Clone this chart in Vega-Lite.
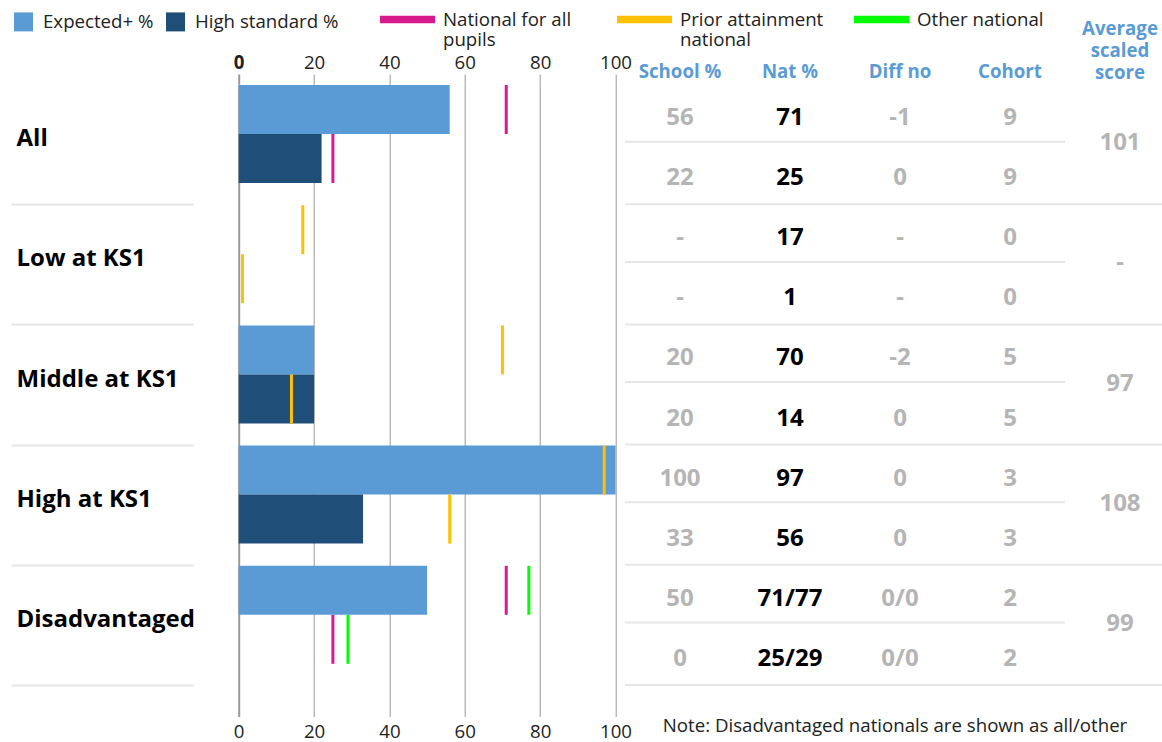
{
  "$schema": "https://vega.github.io/schema/vega-lite/v6.json",
  "width": 923.3,
  "height": 632.5,
  "autosize": {"type": "none"},
  "padding": {"left": 238.7, "top": 84, "right": 0, "bottom": 25.5},
  "config": {"font": "Open Sans", "view": {"stroke": null}},
  "datasets": {
    "bars": [
      {"group": "All", "measure": "Expected+ %", "value": 56},
      {"group": "All", "measure": "High standard %", "value": 22},
      {"group": "Middle at KS1", "measure": "Expected+ %", "value": 20},
      {"group": "Middle at KS1", "measure": "High standard %", "value": 20},
      {"group": "High at KS1", "measure": "Expected+ %", "value": 100},
      {"group": "High at KS1", "measure": "High standard %", "value": 33},
      {"group": "Disadvantaged", "measure": "Expected+ %", "value": 50},
      {"group": "Disadvantaged", "measure": "High standard %", "value": 0}
    ],
    "nat": [
      {"group": "All", "measure": "Expected+ %", "national": "National for all pupils", "value": 71},
      {"group": "All", "measure": "High standard %", "national": "National for all pupils", "value": 25},
      {"group": "Low at KS1", "measure": "Expected+ %", "national": "Prior attainment national", "value": 17},
      {"group": "Low at KS1", "measure": "High standard %", "national": "Prior attainment national", "value": 1},
      {"group": "Middle at KS1", "measure": "Expected+ %", "national": "Prior attainment national", "value": 70},
      {"group": "Middle at KS1", "measure": "High standard %", "national": "Prior attainment national", "value": 14},
      {"group": "High at KS1", "measure": "Expected+ %", "national": "Prior attainment national", "value": 97},
      {"group": "High at KS1", "measure": "High standard %", "national": "Prior attainment national", "value": 56},
      {"group": "Disadvantaged", "measure": "Expected+ %", "national": "National for all pupils", "value": 71},
      {"group": "Disadvantaged", "measure": "Expected+ %", "national": "Other national", "value": 77},
      {"group": "Disadvantaged", "measure": "High standard %", "national": "National for all pupils", "value": 25},
      {"group": "Disadvantaged", "measure": "High standard %", "national": "Other national", "value": 29}
    ],
    "table": [
      {"group": "All", "col": "School %", "sub": "Expected+ %", "text": "56"},
      {"group": "All", "col": "School %", "sub": "High standard %", "text": "22"},
      {"group": "All", "col": "Nat %", "sub": "Expected+ %", "text": "71"},
      {"group": "All", "col": "Nat %", "sub": "High standard %", "text": "25"},
      {"group": "All", "col": "Diff no", "sub": "Expected+ %", "text": "-1"},
      {"group": "All", "col": "Diff no", "sub": "High standard %", "text": "0"},
      {"group": "All", "col": "Cohort", "sub": "Expected+ %", "text": "9"},
      {"group": "All", "col": "Cohort", "sub": "High standard %", "text": "9"},
      {"group": "All", "col": "Average scaled score", "sub": null, "text": "101"},
      {"group": "Low at KS1", "col": "School %", "sub": "Expected+ %", "text": "-"},
      {"group": "Low at KS1", "col": "School %", "sub": "High standard %", "text": "-"},
      {"group": "Low at KS1", "col": "Nat %", "sub": "Expected+ %", "text": "17"},
      {"group": "Low at KS1", "col": "Nat %", "sub": "High standard %", "text": "1"},
      {"group": "Low at KS1", "col": "Diff no", "sub": "Expected+ %", "text": "-"},
      {"group": "Low at KS1", "col": "Diff no", "sub": "High standard %", "text": "-"},
      {"group": "Low at KS1", "col": "Cohort", "sub": "Expected+ %", "text": "0"},
      {"group": "Low at KS1", "col": "Cohort", "sub": "High standard %", "text": "0"},
      {"group": "Low at KS1", "col": "Average scaled score", "sub": null, "text": "-"},
      {"group": "Middle at KS1", "col": "School %", "sub": "Expected+ %", "text": "20"},
      {"group": "Middle at KS1", "col": "School %", "sub": "High standard %", "text": "20"},
      {"group": "Middle at KS1", "col": "Nat %", "sub": "Expected+ %", "text": "70"},
      {"group": "Middle at KS1", "col": "Nat %", "sub": "High standard %", "text": "14"},
      {"group": "Middle at KS1", "col": "Diff no", "sub": "Expected+ %", "text": "-2"},
      {"group": "Middle at KS1", "col": "Diff no", "sub": "High standard %", "text": "0"},
      {"group": "Middle at KS1", "col": "Cohort", "sub": "Expected+ %", "text": "5"},
      {"group": "Middle at KS1", "col": "Cohort", "sub": "High standard %", "text": "5"},
      {"group": "Middle at KS1", "col": "Average scaled score", "sub": null, "text": "97"},
      {"group": "High at KS1", "col": "School %", "sub": "Expected+ %", "text": "100"},
      {"group": "High at KS1", "col": "School %", "sub": "High standard %", "text": "33"},
      {"group": "High at KS1", "col": "Nat %", "sub": "Expected+ %", "text": "97"},
      {"group": "High at KS1", "col": "Nat %", "sub": "High standard %", "text": "56"},
      {"group": "High at KS1", "col": "Diff no", "sub": "Expected+ %", "text": "0"},
      {"group": "High at KS1", "col": "Diff no", "sub": "High standard %", "text": "0"},
      {"group": "High at KS1", "col": "Cohort", "sub": "Expected+ %", "text": "3"},
      {"group": "High at KS1", "col": "Cohort", "sub": "High standard %", "text": "3"},
      {"group": "High at KS1", "col": "Average scaled score", "sub": null, "text": "108"},
      {"group": "Disadvantaged", "col": "School %", "sub": "Expected+ %", "text": "50"},
      {"group": "Disadvantaged", "col": "School %", "sub": "High standard %", "text": "0"},
      {"group": "Disadvantaged", "col": "Nat %", "sub": "Expected+ %", "text": "71/77"},
      {"group": "Disadvantaged", "col": "Nat %", "sub": "High standard %", "text": "25/29"},
      {"group": "Disadvantaged", "col": "Diff no", "sub": "Expected+ %", "text": "0/0"},
      {"group": "Disadvantaged", "col": "Diff no", "sub": "High standard %", "text": "0/0"},
      {"group": "Disadvantaged", "col": "Cohort", "sub": "Expected+ %", "text": "2"},
      {"group": "Disadvantaged", "col": "Cohort", "sub": "High standard %", "text": "2"},
      {"group": "Disadvantaged", "col": "Average scaled score", "sub": null, "text": "99"}
    ]
  },
  "layer": [
    {
      "layer": [
        {
          "data": {"name": "bars"},
          "mark": {"type": "bar", "opacity": 1},
          "encoding": {
            "x": {
              "field": "value", "type": "quantitative",
              "scale": {"domain": [0, 100], "range": [0, 376.8], "nice": false},
              "axis": {
                "orient": "top", "values": [0, 20, 40, 60, 80, 100], "domain": false,
                "grid": true, "gridColor": "#999999",
                "gridWidth": {"condition": {"test": "datum.value === 0", "value": 2}, "value": 1},
                "ticks": true, "tickSize": 10, "tickColor": "#999999",
                "tickWidth": {"condition": {"test": "datum.value === 0", "value": 2}, "value": 1},
                "labelFontSize": 18.67, "labelColor": "#222222", "labelPadding": 2, "labelFlush": false,
                "labelFontWeight": {"condition": {"test": "datum.value === 0", "value": "bold"}, "value": "normal"},
                "title": null
              }
            },
            "y": {
              "field": "group", "type": "nominal",
              "scale": {"domain": ["All", "Low at KS1", "Middle at KS1", "High at KS1", "Disadvantaged"], "paddingInner": 0, "paddingOuter": 0.131, "align": 0},
              "axis": {
                "orient": "left", "offset": 45.7, "domain": false, "grid": false,
                "ticks": true, "tickBand": "extent", "tickSize": 182, "tickWidth": 2, "tickColor": "#e6e6e6",
                "tickOpacity": {"condition": {"test": "datum.extra", "value": 0}, "value": 1},
                "labelAlign": "left", "labelBaseline": "middle", "labelPadding": -5, "labelOffset": -5.5,
                "labelFontSize": 24, "labelFontWeight": "bold", "labelColor": "#000000", "labelLimit": 400,
                "title": null
              }
            },
            "yOffset": {
              "field": "measure", "type": "nominal",
              "scale": {"domain": ["Expected+ %", "High standard %"], "paddingInner": 0, "paddingOuter": 0.2265, "align": 0.045}
            },
            "color": {
              "field": "measure", "type": "nominal",
              "scale": {"domain": ["Expected+ %", "High standard %"], "range": ["#5b9bd5", "#1f4e79"]},
              "legend": {
                "orient": "none", "legendX": -224.7, "legendY": -72, "direction": "horizontal", "title": null,
                "symbolType": "square", "symbolSize": 361, "symbolStrokeWidth": 0, "symbolOpacity": 1,
                "labelFontSize": 18.67, "labelColor": "#222222", "labelOffset": 10, "columnPadding": 12, "padding": 0
              }
            }
          }
        },
        {
          "data": {"name": "nat"},
          "mark": {"type": "tick", "orient": "vertical", "thickness": 3, "size": 49, "opacity": 1},
          "encoding": {
            "x": {
              "field": "value", "type": "quantitative",
              "scale": {"domain": [0, 100], "range": [0, 376.8], "nice": false},
              "axis": {
                "orient": "bottom", "values": [0, 20, 40, 60, 80, 100], "domain": false, "grid": false,
                "ticks": false, "tickSize": 0, "labelFontSize": 18.67, "labelColor": "#222222",
                "labelPadding": 6, "labelFlush": false, "title": null
              }
            },
            "y": {
              "field": "group", "type": "nominal",
              "scale": {"domain": ["All", "Low at KS1", "Middle at KS1", "High at KS1", "Disadvantaged"], "paddingInner": 0, "paddingOuter": 0.131, "align": 0},
              "axis": {"title": null}
            },
            "yOffset": {
              "field": "measure", "type": "nominal",
              "scale": {"domain": ["Expected+ %", "High standard %"], "paddingInner": 0, "paddingOuter": 0.2265, "align": 0.045}
            },
            "fill": {
              "field": "national", "type": "nominal",
              "scale": {"domain": ["National for all pupils", "Prior attainment national", "Other national"], "range": ["#d81b8c", "#ffc000", "#00ff00"]},
              "legend": {
                "orient": "none", "legendX": 141.3, "legendY": -92, "direction": "horizontal", "title": null,
                "symbolType": "M-1,-0.136H1V0.136H-1Z", "symbolSize": 3025, "symbolStrokeWidth": 0, "symbolOpacity": 1,
                "labelFontSize": 18.67, "labelColor": "#222222", "labelOffset": 8, "columnPadding": 30,
                "gridAlign": "all", "padding": 0, "labelLimit": 300,
                "labelExpr": "datum.label === 'National for all pupils' ? ['National for all', 'pupils'] : datum.label === 'Prior attainment national' ? ['Prior attainment', 'national'] : [datum.label, '']"
              }
            }
          }
        }
      ],
      "resolve": {"axis": {"x": "independent"}}
    },
    {
      "data": {"name": "table"},
      "layer": [
        {
          "transform": [{"filter": "datum.sub === 'Expected+ %'"}],
          "mark": {"type": "tick", "orient": "horizontal", "thickness": 2, "size": 110, "color": "#e6e6e6", "opacity": 1},
          "encoding": {
            "x": {"field": "col", "type": "nominal",
              "scale": {"domain": ["School %", "Nat %", "Diff no", "Cohort", "Average scaled score"], "range": [386.3, 936.3], "paddingInner": 0, "paddingOuter": 0},
              "axis": null},
            "y": {"field": "group", "type": "nominal", "bandPosition": 0.48,
              "scale": {"domain": ["All", "Low at KS1", "Middle at KS1", "High at KS1", "Disadvantaged"], "paddingInner": 0, "paddingOuter": 0.131, "align": 0},
              "axis": {"title": null}}
          }
        },
        {
          "transform": [{"filter": "datum.sub !== 'High standard %'"}],
          "mark": {"type": "tick", "orient": "horizontal", "thickness": 2, "size": 110, "color": "#e6e6e6", "opacity": 1},
          "encoding": {
            "x": {"field": "col", "type": "nominal",
              "scale": {"domain": ["School %", "Nat %", "Diff no", "Cohort", "Average scaled score"], "range": [386.3, 936.3], "paddingInner": 0, "paddingOuter": 0},
              "axis": {
                "orient": "bottom", "domain": false, "ticks": false, "labels": false, "grid": false,
                "title": "Note: Disadvantaged nationals are shown as all/other",
                "titleFontSize": 18.67, "titleFontWeight": "normal", "titleColor": "#222222",
                "titleX": 655.8, "titleY": 9, "titleBaseline": "middle", "titleAlign": "center"
              }},
            "y": {"field": "group", "type": "nominal", "bandPosition": 1,
              "scale": {"domain": ["All", "Low at KS1", "Middle at KS1", "High at KS1", "Disadvantaged"], "paddingInner": 0, "paddingOuter": 0.131, "align": 0},
              "axis": {"title": null}}
          }
        },
        {
          "transform": [{"filter": "datum.sub != null"}],
          "mark": {"type": "text", "fontSize": 24, "fontWeight": "bold", "dy": 4},
          "encoding": {
            "x": {"field": "col", "type": "nominal",
              "scale": {"domain": ["School %", "Nat %", "Diff no", "Cohort", "Average scaled score"], "range": [386.3, 936.3], "paddingInner": 0, "paddingOuter": 0},
              "axis": {
                "orient": "top", "domain": false, "ticks": false, "tickSize": 0, "grid": false, "labelAngle": 0,
                "labelFontSize": 18.67, "labelFontWeight": "bold", "labelColor": "#5b9bd5",
                "labelPadding": {"condition": {"test": "datum.value === 'Average scaled score'", "value": 45.3}, "value": 2.3},
                "labelLineHeight": 22, "labelLimit": 300,
                "labelExpr": "datum.value === 'Average scaled score' ? ['Average', 'scaled', 'score'] : datum.label",
                "title": null
              }},
            "y": {"field": "group", "type": "nominal",
              "scale": {"domain": ["All", "Low at KS1", "Middle at KS1", "High at KS1", "Disadvantaged"], "paddingInner": 0, "paddingOuter": 0.131, "align": 0},
              "axis": {"title": null}},
            "yOffset": {"field": "sub", "type": "nominal",
              "scale": {"type": "point", "domain": ["Expected+ %", "High standard %"], "padding": 0.5}},
            "text": {"field": "text", "type": "nominal"},
            "color": {"condition": {"test": "datum.col === 'Nat %'", "value": "#000000"}, "value": "#b5b5b5"}
          }
        },
        {
          "transform": [{"filter": "datum.sub == null"}],
          "mark": {"type": "text", "fontSize": 24, "fontWeight": "bold", "dy": -1, "color": "#b5b5b5"},
          "encoding": {
            "x": {"field": "col", "type": "nominal",
              "scale": {"domain": ["School %", "Nat %", "Diff no", "Cohort", "Average scaled score"], "range": [386.3, 936.3], "paddingInner": 0, "paddingOuter": 0},
              "axis": null},
            "y": {"field": "group", "type": "nominal",
              "scale": {"domain": ["All", "Low at KS1", "Middle at KS1", "High at KS1", "Disadvantaged"], "paddingInner": 0, "paddingOuter": 0.131, "align": 0},
              "axis": {"title": null}},
            "text": {"field": "text", "type": "nominal"}
          }
        }
      ],
      "resolve": {"axis": {"x": "independent"}}
    }
  ],
  "resolve": {"scale": {"x": "independent", "yOffset": "independent"}, "axis": {"x": "independent"}}
}
